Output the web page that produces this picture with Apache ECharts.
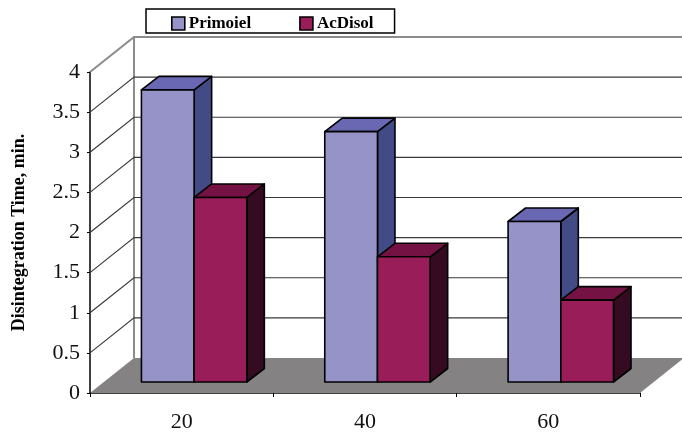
<!DOCTYPE html>
<html>
<head>
<meta charset="utf-8">
<style>html,body{margin:0;padding:0;background:#fff}#chart{width:682px;height:436px}</style>
<script src="https://cdn.jsdelivr.net/npm/echarts@6/dist/echarts.min.js"></script>
</head>
<body>
<div id="chart"></div>
<script>
// Disintegration time against superdisintegrant level
const categories = ['20', '40', '60'];
const primoiel = [3.64, 3.12, 2.0];
const acDisol = [2.3, 1.56, 1.02];
const yTicks = [0, 0.5, 1, 1.5, 2, 2.5, 3, 3.5, 4];

const SERIF = '"Liberation Serif", "Times New Roman", serif';
const WALL_DX = 44, WALL_DY = -35;   // depth of the chart box
const BAR_DX = 17.5, BAR_DY = -13.5; // depth of one column
const FLOOR_DX = 0, FLOOR_DY = -11;  // columns stand this far in from the front edge

function pts(list) { return { points: list }; }

// Back wall, floor and the gridlines that wrap from the front axis to the wall
function renderWall(params, api) {
  const v = api.value(0);
  const cs = params.coordSys;
  const y = api.coord([0, v])[1];
  const x0 = cs.x, x1 = cs.x + cs.width;
  const isTop = v === yTicks[yTicks.length - 1];
  const children = [];
  if (v === 0) {
    children.push({
      type: 'polygon',
      shape: pts([[x0, y], [x1, y], [x1 + WALL_DX, y + WALL_DY], [x0 + WALL_DX, y + WALL_DY]]),
      style: { fill: '#858284' }
    });
    children.push({
      type: 'line',
      shape: { x1: x0 + WALL_DX, y1: y + WALL_DY, x2: x0 + WALL_DX, y2: cs.y + WALL_DY },
      style: { stroke: '#8c8c8c', lineWidth: 2 }
    });
  } else {
    const color = isTop ? '#8c8c8c' : '#3a3a3a';
    const width = isTop ? 2 : 1.2;
    children.push({
      type: 'polyline',
      shape: pts([[x0, y], [x0 + WALL_DX, y + WALL_DY], [x1 + WALL_DX, y + WALL_DY]]),
      style: { stroke: color, lineWidth: width, fill: 'none' }
    });
  }
  return { type: 'group', children };
}

// One extruded column: side and top faces behind a front rectangle
function columnRenderer(offsetCats, front, top, side) {
  return function (params, api) {
    const idx = api.value(0);
    const c = api.coord([idx, api.value(1)]);
    const base = api.coord([idx, 0]);
    const cat = api.size([1, 0])[0];
    const w = cat * 0.2875;
    const l = c[0] + cat * offsetCats + FLOOR_DX;
    const r = l + w;
    const t = c[1] + FLOOR_DY;
    const b = base[1] + FLOOR_DY;
    const edge = { stroke: '#000', lineWidth: 1.6, lineJoin: 'round' };
    return {
      type: 'group',
      children: [
        { type: 'polygon', shape: pts([[r, t], [r + BAR_DX, t + BAR_DY], [r + BAR_DX, b + BAR_DY], [r, b]]),
          style: Object.assign({ fill: side }, edge) },
        { type: 'polygon', shape: pts([[l, t], [l + BAR_DX, t + BAR_DY], [r + BAR_DX, t + BAR_DY], [r, t]]),
          style: Object.assign({ fill: top }, edge) },
        { type: 'rect', shape: { x: l, y: t, width: w, height: b - t },
          style: Object.assign({ fill: front }, edge) }
      ]
    };
  };
}

const chart = echarts.init(document.getElementById('chart'), null, { renderer: 'canvas' });
chart.setOption({
  animation: false,
  backgroundColor: '#fff',
  grid: { left: 90, right: 42, top: 72, bottom: 43, containLabel: false },
  legend: {
    data: ['Primoiel', 'AcDisol'],
    left: 146, top: 9,
    padding: [6, 21, 1, 25],
    itemWidth: 13, itemHeight: 13, itemGap: 48,
    icon: 'rect',
    borderColor: '#000', borderWidth: 1.5,
    backgroundColor: '#fff',
    itemStyle: { borderColor: '#000', borderWidth: 1.6 },
    textStyle: { fontFamily: SERIF, fontWeight: 'bold', fontSize: 17, color: '#000', padding: [0, 0, 0, -1] }
  },
  xAxis: {
    type: 'category',
    data: categories,
    axisLine: { show: true, lineStyle: { color: '#000', width: 1.5 } },
    axisTick: { show: true, length: 4, lineStyle: { color: '#000', width: 1 } },
    axisLabel: { fontFamily: SERIF, fontSize: 22, color: '#111', margin: 18 },
    splitLine: { show: false }
  },
  yAxis: {
    type: 'value',
    min: 0, max: 4, interval: 0.5,
    name: 'Disintegration Time, min.',
    nameLocation: 'middle', nameRotate: 90, nameGap: 62,
    nameTextStyle: { fontFamily: SERIF, fontWeight: 'bold', fontSize: 18, color: '#000' },
    axisLine: { show: true, lineStyle: { color: '#000', width: 1.5 } },
    axisTick: { show: true, length: 3, lineStyle: { color: '#000', width: 1 } },
    axisLabel: { fontFamily: SERIF, fontSize: 22, color: '#111', margin: 10 },
    splitLine: { show: false }
  },
  series: [
    { type: 'custom', name: 'walls', silent: true, z: 1, clip: false,
      data: yTicks.map(v => [v]),
      encode: { y: 0 },
      renderItem: renderWall },
    { type: 'custom', name: 'Primoiel', z: 2, clip: false,
      itemStyle: { color: '#9693c8' },
      data: primoiel.map((v, i) => [i, v]),
      encode: { x: 0, y: 1 },
      renderItem: columnRenderer(-0.2195, '#9693c8', '#6a68b2', '#434b87') },
    { type: 'custom', name: 'AcDisol', z: 3, clip: false,
      itemStyle: { color: '#981d58' },
      data: acDisol.map((v, i) => [i, v]),
      encode: { x: 0, y: 1 },
      renderItem: columnRenderer(0.068, '#981d58', '#741244', '#350b21') }
  ]
});
</script>
</body>
</html>
